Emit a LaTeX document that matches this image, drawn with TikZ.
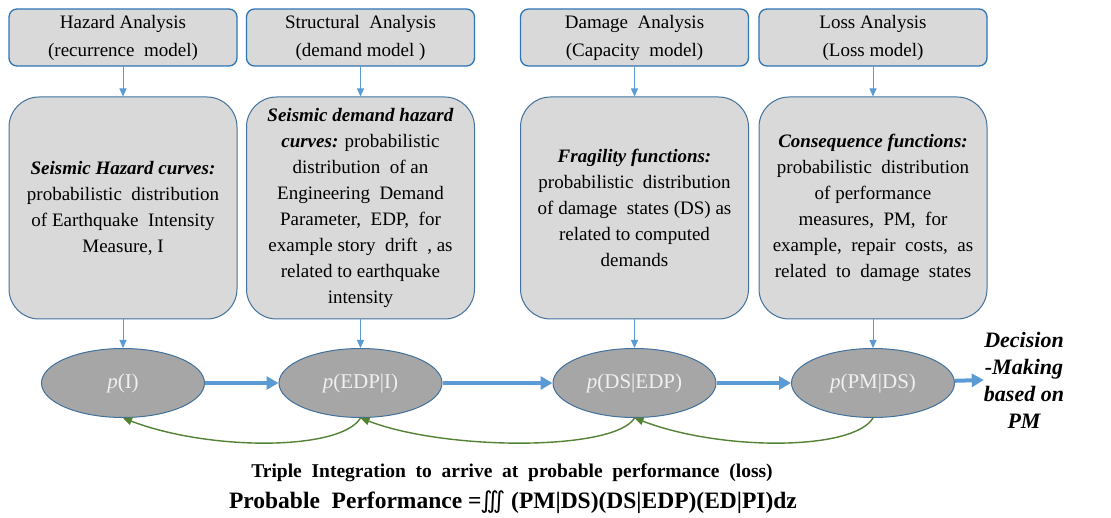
\documentclass[tikz,border=0pt]{standalone}
\usepackage{fontspec}
\setmainfont{Liberation Serif}
\newfontfamily\opsfont{DejaVu Sans}
\usetikzlibrary{arrows.meta,positioning,shapes.geometric}

\definecolor{boxfill}{HTML}{D9D9D9}
\definecolor{stageblue}{HTML}{2E75B6}
\definecolor{infoblue}{HTML}{41719C}
\definecolor{arrowblue}{HTML}{5B9BD5}
\definecolor{distgray}{HTML}{A6A6A6}
\definecolor{backgreen}{HTML}{548235}

\begin{document}
\begin{tikzpicture}[
    x=1pt, y=-1pt,
    font=\fontsize{19}{26}\selectfont,
    stage/.style={draw=stageblue, line width=1.3pt, rounded corners=8pt, fill=boxfill, align=center,
                  minimum width=228pt, minimum height=57pt, inner sep=0pt, font=\fontsize{19}{28}\selectfont},
    info/.style={draw=infoblue, line width=1pt, rounded corners=30pt, fill=boxfill, align=center,
                 minimum width=228pt, minimum height=222pt, inner sep=0pt},
    dist/.style={ellipse, draw=infoblue, line width=1pt, fill=distgray, minimum width=163pt,
                 minimum height=69pt, inner sep=0pt, text=white!94!black, font=\fontsize{21}{25}\selectfont},
    feed/.style={-{Triangle[length=8pt,width=7pt]}, line width=0.9pt, draw=arrowblue},
    flow/.style={-{Triangle[length=12pt,width=13pt]}, line width=4pt, draw=arrowblue},
    back/.style={-{Triangle[length=9pt,width=8pt]}, line width=1.4pt, draw=backgreen},
    caption/.style={inner sep=0pt, font=\bfseries\fontsize{19.5}{22}\selectfont}
]
\useasboundingbox (0,0) rectangle (1111,518);

% Analysis stages.
\node[stage] (hazard) at (123,37.5) {Hazard Analysis\\(recurrence\ \ model)};
\node[stage] (struct) at (360.5,37.5) {Structural\ \ Analysis\\(demand model )};
\node[stage] (damage) at (634.5,37.5) {Damage\ \ Analysis\\(Capacity\ \ model)};
\node[stage] (loss) at (873,37.5) {Loss Analysis\\(Loss model)};

% Descriptions.
\node[info] (hazinfo) at (123,208) {\textbf{\textit{Seismic Hazard curves:}}\\probabilistic\ \ distribution\\of Earthquake\ \ Intensity\\Measure, I};
\node[info] (strinfo) at (360.5,208) {\textbf{\textit{Seismic demand hazard}}\\\textbf{\textit{curves:}} probabilistic\\distribution\ \ of an\\Engineering\ \ Demand\\Parameter,\ \ EDP,\ \ for\\example story\ \ drift\ \ , as\\related to earthquake\\intensity};
\node[info] (daminfo) at (634.5,208) {\textbf{\textit{Fragility functions:}}\\probabilistic\ \ distribution\\of damage\ \ states (DS) as\\related to computed\\demands};
\node[info] (lossinfo) at (873,208) {\textbf{\textit{Consequence functions:}}\\probabilistic\ \ distribution\\of performance\\measures,\ \ PM,\ \ for\\example,\ \ repair\ \ costs,\ \ as\\related\ \ to\ \ damage\ \ states};

% Distributions.
\node[dist] (pim) at (123,383) {\textit{p}(I)};
\node[dist] (pedp) at (360.5,383) {\textit{p}(EDP|I)};
\node[dist] (pds) at (634.5,383) {\textit{p}(DS|EDP)};
\node[dist] (ppm) at (873,383) {\textit{p}(PM|DS)};
\node[font=\bfseries\itshape\fontsize{22}{27}\selectfont, align=center, inner sep=0pt] (decision) at (1024,380)
    {Decision\\-Making\\based on\\PM};

\draw[feed] (hazard) -- (hazinfo);
\draw[feed] (struct) -- (strinfo);
\draw[feed] (damage) -- (daminfo);
\draw[feed] (loss) -- (lossinfo);
\draw[feed] (hazinfo) -- (pim);
\draw[feed] (strinfo) -- (pedp);
\draw[feed] (daminfo) -- (pds);
\draw[feed] (lossinfo) -- (ppm);

\draw[flow] (pim) -- (pedp);
\draw[flow] (pedp) -- (pds);
\draw[flow] (pds) -- (ppm);
\draw[flow] (ppm) -- (decision.west);

\draw[back] (pedp.south) .. controls +(-20,33) and +(86,33) .. (pim.south);
\draw[back] (pds.south) .. controls +(-20,33) and +(86,33) .. (pedp.south);
\draw[back] (ppm.south) .. controls +(-20,33) and +(86,33) .. (pds.south);

% Integration.
\node[caption] (triple) at (512,473) {Triple\ \ Integration\ \ to\ \ arrive\ \ at\ \ probable\ \ performance\ \ (loss)};
\node[caption, font=\bfseries\fontsize{23.5}{26}\selectfont] (formula) at (513,502)
    {Probable\ \ Performance =\hspace{-1pt}{\mdseries\opsfont ∭} (PM|DS)(DS|EDP)(ED|PI)dz};

\end{tikzpicture}
\end{document}
